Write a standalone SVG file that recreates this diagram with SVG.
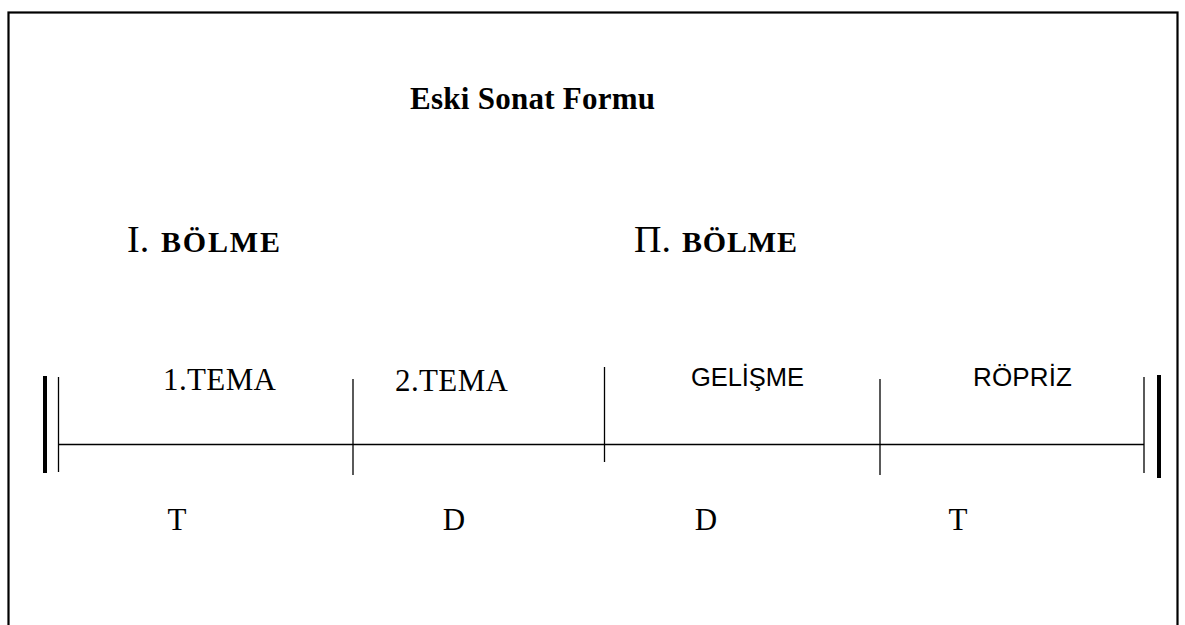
<svg xmlns="http://www.w3.org/2000/svg" width="1185" height="625" viewBox="0 0 1185 625">
<style>
.serif{font-family:"Liberation Serif","Times New Roman",serif;fill:#000}
.sans{font-family:"Liberation Sans",Arial,sans-serif;fill:#000}
.b{font-weight:bold}
.thin{stroke:#000;stroke-width:1.3;fill:none}
.thick{stroke:#000;stroke-width:4;fill:none}
</style>
<rect x="0" y="0" width="1185" height="625" fill="#fff"/>
<rect id="frame" x="8.5" y="12.5" width="1169" height="640" fill="none" stroke="#000" stroke-width="2.2"/>
<g id="title"><text class="serif b" x="410" y="109" font-size="31" textLength="245">Eski Sonat Formu</text></g>
<g id="bolme1"><text class="serif" x="127" y="252" font-size="38">I.</text><text class="serif b" x="161" y="252" font-size="30" textLength="119">BÖLME</text></g>
<g id="bolme2"><text class="serif" x="634" y="252" font-size="38">П.</text><text class="serif b" x="682" y="252" font-size="30" textLength="115">BÖLME</text></g>
<g id="connectors">
<line class="thick" x1="45" y1="376" x2="45" y2="473"/>
<line class="thin" x1="58.5" y1="377" x2="58.5" y2="472"/>
<line class="thin" x1="58" y1="444.5" x2="1144" y2="444.5"/>
<line class="thin" x1="353" y1="379" x2="353" y2="475"/>
<line class="thin" x1="604.5" y1="367" x2="604.5" y2="462"/>
<line class="thin" x1="880" y1="379" x2="880" y2="475"/>
<line class="thin" x1="1144" y1="377" x2="1144" y2="473" stroke="#444"/>
<line class="thick" x1="1159" y1="375" x2="1159" y2="478"/>
</g>
<g id="tema1"><text class="serif" x="163" y="390" font-size="31" textLength="113">1.TEMA</text></g>
<g id="tema2"><text class="serif" x="395" y="391" font-size="31" textLength="113">2.TEMA</text></g>
<g id="gelisme"><text class="sans" x="691" y="386" font-size="25.5" textLength="113">GELİŞME</text></g>
<g id="ropriz"><text class="sans" x="973" y="386" font-size="26" textLength="99">RÖPRİZ</text></g>
<g id="keys">
<text class="serif" x="177" y="530" font-size="31" text-anchor="middle">T</text>
<text class="serif" x="454" y="530" font-size="31" text-anchor="middle">D</text>
<text class="serif" x="706" y="530" font-size="31" text-anchor="middle">D</text>
<text class="serif" x="958" y="530" font-size="31" text-anchor="middle">T</text>
</g>
</svg>
